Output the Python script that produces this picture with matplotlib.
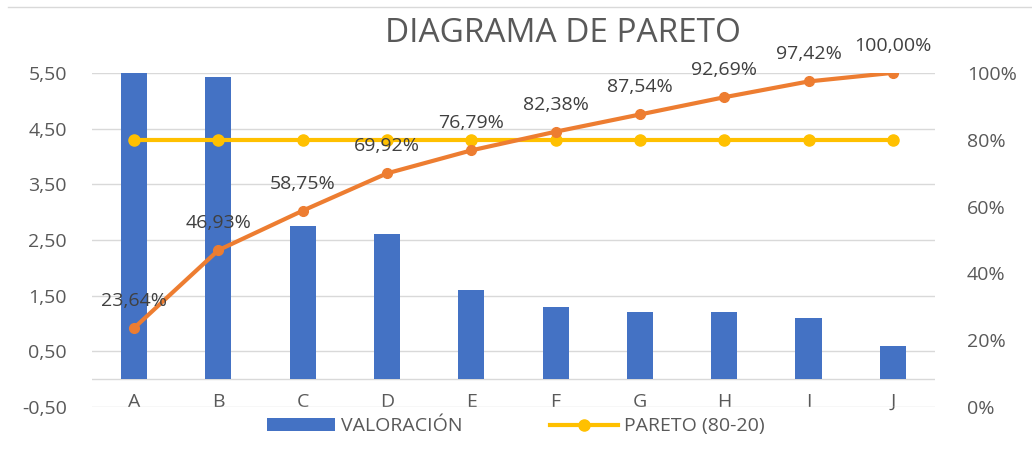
import matplotlib.pyplot as plt
import numpy as np
from matplotlib.lines import Line2D

plt.rcParams["font.family"] = ["Open Sans", "DejaVu Sans"]

categorias = ["A", "B", "C", "D", "E", "F", "G", "H", "I", "J"]
valoracion = [5.5, 5.42, 2.75, 2.6, 1.6, 1.3, 1.2, 1.2, 1.1, 0.6]
pareto_80 = [0.8] * 10

acumulado = np.cumsum(valoracion) / np.sum(valoracion)

gris = "#595959"
fig = plt.figure(figsize=(10.32, 4.61), dpi=100)
ax = fig.add_axes([0.089, 0.117, 0.817, 0.725])
ax2 = ax.twinx()

x = np.arange(len(categorias))
ax.bar(x, valoracion, width=0.31, color="#4472C4", zorder=3, label="VALORACIÓN")
ax.axhline(0, color="#D9D9D9", lw=1, zorder=2)

ax2.plot(x, acumulado, color="#ED7D31", lw=3, marker="o", ms=7, zorder=4)
ax2.plot(x, pareto_80, color="#FFC000", lw=3, marker="o", ms=8, zorder=3,
         label="PARETO (80-20)")

for xi, v in zip(x, acumulado):
    txt = f"{v * 100:.2f}%".replace(".", ",")
    ax2.annotate(txt, (xi, v), xytext=(0, 13), textcoords="offset points",
                 ha="center", va="bottom", fontsize=14, color="#404040", zorder=6)

ax.set_xlim(-0.5, len(categorias) - 0.5)
ax.set_ylim(-0.5, 5.5)
ax2.set_ylim(0, 1)

yt = np.arange(-0.5, 5.6, 1.0)
ax.set_yticks(yt, labels=[f"{t:.2f}".replace(".", ",") for t in yt])
ax2.set_yticks(np.arange(0, 1.01, 0.2),
               labels=[f"{int(round(t * 100))}%" for t in np.arange(0, 1.01, 0.2)])
ax.set_xticks(x, labels=categorias)

ax.grid(axis="y", color="#D9D9D9", lw=1, zorder=0)
ax.set_axisbelow(True)
for a in (ax, ax2):
    for s in a.spines.values():
        s.set_visible(False)
ax.tick_params(axis="y", length=0, labelsize=14, labelcolor=gris, pad=18)
ax2.tick_params(axis="y", length=0, labelsize=14, labelcolor=gris, pad=23)
ax.tick_params(axis="x", length=0, labelsize=14, labelcolor=gris, pad=-10)

fig.text(0.545, 0.927, "DIAGRAMA DE PARETO", ha="center", va="center",
         fontsize=24, color=gris)

handles = [ax.patches[0], ax2.lines[1]]
fig.legend(handles, ["VALORACIÓN", "PARETO (80-20)"], loc="center",
           bbox_to_anchor=(0.5, 0.075), ncol=2, frameon=False, fontsize=14,
           labelcolor=gris, handlelength=3.5, columnspacing=4.5, handletextpad=0.3)

fig.add_artist(Line2D([0.008, 1.0], [0.985, 0.985], color="#D9D9D9", lw=1,
                      transform=fig.transFigure))

fig.savefig("out.png", dpi=100)
